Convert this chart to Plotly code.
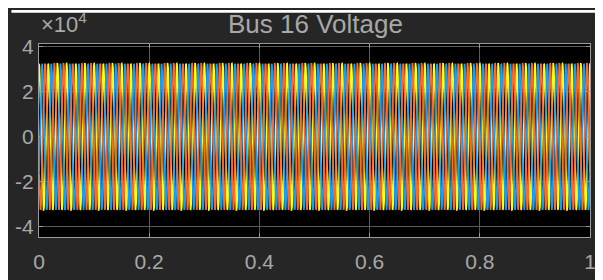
import numpy as np
import plotly.graph_objects as go

# ---- data (three-phase bus voltage, scope view) ----
t_start = 0.0            # s
t_end = 1.0              # s
sample_step = 1e-4       # s
freq_hz = 60.0           # fundamental frequency
amplitude = 3.25e4       # peak phase voltage (V)
phase_names = ["Phase A", "Phase B", "Phase C"]
phase_shift_deg = [0.0, -120.0, 120.0]
phase_colors = ["#FFFF11", "#139FFF", "#FF6929"]

x_ticks = [0, 0.2, 0.4, 0.6, 0.8, 1]
x_tick_text = ["0", "0.2", "0.4", "0.6", "0.8", "1"]
y_ticks = [-4e4, -2e4, 0, 2e4, 4e4]
y_tick_text = ["-4", "-2", "0", "2", "4"]
title_text = "Bus 16 Voltage"

t = np.arange(t_start, t_end + sample_step / 2, sample_step)

fig = go.Figure()
for name, shift, color in zip(phase_names, phase_shift_deg, phase_colors):
    v = amplitude * np.cos(2 * np.pi * freq_hz * t + np.deg2rad(shift))
    fig.add_trace(go.Scatter(x=t, y=v, mode="lines", name=name,
                             line=dict(color=color, width=1.8)))

# page body has an 8px margin, so the figure fills the rest of the window
OFF = 8
W, H = 603 - OFF, 280 - OFF
L, R, T, B = 28, 7, 36, 32
pw, ph = W - L - R, H - T - B

def px_x(p):  # p in window pixels
    return (p - OFF - L) / pw

def px_y(p):
    return (H - B - (p - OFF)) / ph

axis_col = "#9a9a9a"
grid_col = "#5a5a5a"
txt_col = "#a8a8a8"

fig.update_layout(
    width=W, height=H,
    margin=dict(l=L, r=R, t=T, b=B),
    paper_bgcolor="#262626",
    plot_bgcolor="#000000",
    showlegend=False,
    font=dict(family="Liberation Sans, Arial, sans-serif", color=txt_col),
    title=dict(text=title_text, x=px_x(317), xref="paper", xanchor="center",
               y=1 - (24 - OFF) / H, yanchor="middle",
               font=dict(size=26, color=txt_col)),
    xaxis=dict(range=[0, 1], tickvals=x_ticks, ticktext=x_tick_text,
               showgrid=True, gridcolor=grid_col, gridwidth=1,
               zeroline=False, showline=True, linecolor=axis_col, linewidth=1,
               mirror="ticks", ticks="inside", ticklen=4, tickcolor=axis_col,
               tickfont=dict(size=21, color=txt_col), ticklabelstandoff=6),
    yaxis=dict(range=[-4.46e4, 4.13e4], tickvals=y_ticks, ticktext=y_tick_text,
               showgrid=True, gridcolor=grid_col, gridwidth=1,
               zeroline=False, showline=True, linecolor=axis_col, linewidth=1,
               mirror="ticks", ticks="inside", ticklen=4, tickcolor=axis_col,
               tickfont=dict(size=21, color=txt_col), ticklabelstandoff=0),
    annotations=[dict(text="×10<sup>4</sup>", xref="paper", yref="paper",
                      x=px_x(36), y=px_y(39), xanchor="left", yanchor="bottom",
                      showarrow=False, font=dict(size=22, color=txt_col))],
    shapes=[
        dict(type="rect", xref="paper", yref="paper", layer="above",
             x0=px_x(OFF), x1=px_x(603), y0=px_y(11), y1=px_y(OFF),
             fillcolor="white", line=dict(width=0)),
    ],
)

fig.write_html("out.html")
